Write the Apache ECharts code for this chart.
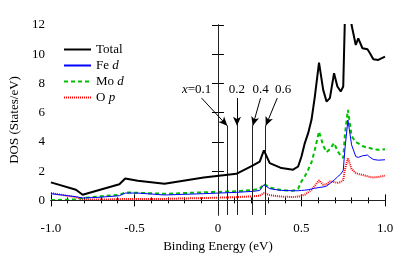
<!DOCTYPE html>
<html><head><meta charset="utf-8">
<script src="https://cdn.jsdelivr.net/npm/echarts@6/dist/echarts.min.js"></script>
<style>html,body{margin:0;padding:0;background:#fff}#c{width:409px;height:259px}</style>
</head><body><div id="c"></div>
<script>
const energy = [-1.0,-0.85,-0.81,-0.70,-0.59,-0.555,-0.48,-0.32,-0.085,0.11,0.21,0.25,0.275,0.31,0.38,0.45,0.48,0.50,0.52,0.54,0.56,0.58,0.605,0.63,0.65,0.67,0.695,0.715,0.735,0.75,0.76,0.778,0.80,0.825,0.84,0.865,0.895,0.91,0.93,0.96,1.0];
const total = [1.23,0.73,0.39,0.75,1.1,1.5,1.35,1.14,1.57,1.82,2.39,2.65,3.42,2.55,2.21,2.1,2.32,3.0,3.92,4.6,5.51,7.1,9.43,7.56,6.76,7.0,8.7,7.79,7.45,7.79,12.5,14.5,12.0,10.63,11.09,10.41,10.34,10.07,9.66,9.61,9.84];
const feD = [0.46,0.25,0.16,0.22,0.32,0.5,0.5,0.37,0.46,0.55,0.62,0.68,1.07,0.8,0.68,0.66,0.66,0.68,0.7,0.73,0.78,0.83,0.88,0.92,0.98,1.15,1.38,1.6,1.8,2.05,3.5,5.5,3.8,3.0,2.94,3.05,3.1,2.95,2.8,2.75,2.78];
const moD = [0.02,0.06,0.16,0.28,0.38,0.55,0.52,0.45,0.55,0.62,0.72,0.8,1.14,0.88,0.7,0.66,0.8,1.3,1.64,2.1,2.6,3.46,4.71,3.75,3.3,3.5,3.92,3.4,3.05,2.9,4.5,6.2,4.4,4.0,3.9,3.72,3.6,3.58,3.5,3.46,3.5];
const oP = [0.5,0.22,0.05,0.06,0.08,0.1,0.1,0.1,0.16,0.22,0.28,0.32,0.5,0.36,0.26,0.23,0.26,0.32,0.39,0.55,0.73,1.0,1.37,1.07,1.1,1.3,1.25,1.2,1.25,1.4,2.1,2.9,2.15,1.87,1.8,1.75,1.65,1.6,1.57,1.6,1.69];
const seriesNames = ['Total','Fe d','Mo d','O p'];
const xTickLabels = {'-1':'-1.0','-0.5':'-0.5','0':'0','0.5':'0.5','1':'1.0'};
const yTicks = [0,2,4,6,8,10,12];
// doping markers: line position, arrow start, label position
const dopingLabels = ['x=0.1','0.2','0.4','0.6'];
const dopingLineX = [0.056,0.114,0.208,0.286];
const arrowStartX = [-0.098,0.114,0.255,0.355];
const labelX = [-0.128,0.113,0.255,0.39];
const lineTopY = 5.1, arrowStartY = 7.0, labelY = 7.6;

const pairs = a => energy.map((e,i)=>[e,a[i]]);
const serif = 'Liberation Serif';
const chart = echarts.init(document.getElementById('c'), null, {renderer:'canvas'});
const mlData = [];
mlData.push([{coord:[0,-1]},{coord:[0,12]}]);
dopingLineX.forEach(x=>mlData.push([{coord:[x,-1]},{coord:[x,lineTopY]}]));
const arrowData = dopingLineX.map((x,i)=>[{coord:[arrowStartX[i],arrowStartY]},{coord:[x,lineTopY]}]);
const labelData = dopingLabels.map((t,i)=>({coord:[labelX[i],labelY], name:t}));

chart.setOption({
  animation:false,
  textStyle:{fontFamily:serif},
  grid:{left:44,right:24,top:25,bottom:44},
  legend:{
    data:seriesNames, orient:'vertical', left:58, top:38, itemWidth:27, itemHeight:8, itemGap:3,
    itemStyle:{opacity:0},
    textStyle:{fontFamily:serif,fontSize:13,color:'#000',rich:{i:{fontStyle:'italic',fontFamily:serif,fontSize:13}}},
    formatter: n => { const p=n.split(' '); return p.length>1 ? p[0]+' {i|'+p[1]+'}' : n; }
  },
  xAxis:[{
    type:'value',min:-1,max:1,interval:0.5,
    name:'Binding Energy (eV)',nameLocation:'middle',nameGap:24,
    nameTextStyle:{fontFamily:serif,fontSize:13,color:'#000'},
    axisLine:{lineStyle:{color:'#000',width:1}},
    axisTick:{inside:true,length:6,lineStyle:{color:'#000'}},
    minorTick:{show:true,splitNumber:5,length:3,lineStyle:{color:'#000'}},
    axisLabel:{fontFamily:serif,fontSize:13,color:'#000',margin:7,formatter:v=>xTickLabels[String(v)]??String(v)},
    splitLine:{show:false}
  },{
    type:'value',min:-1,max:1,interval:0.5,position:'top',
    axisLine:{show:true,lineStyle:{color:'#000',width:1}},
    axisTick:{inside:true,length:6,lineStyle:{color:'#000'}},
    minorTick:{show:true,splitNumber:5,length:3,lineStyle:{color:'#000'}},
    axisLabel:{show:false},splitLine:{show:false}
  }],
  yAxis:[{
    type:'value',min:-1,max:12,
    name:'DOS (States/eV)',nameLocation:'middle',nameGap:26,
    nameTextStyle:{fontFamily:serif,fontSize:13,color:'#000'},
    axisLine:{show:true,lineStyle:{color:'#000',width:1}},
    axisTick:{show:true,inside:true,length:6,lineStyle:{color:'#000'},customValues:yTicks},
    axisLabel:{fontFamily:serif,fontSize:13,color:'#000',margin:6,customValues:yTicks},
    splitLine:{show:false}
  },{
    type:'value',min:-1,max:12,position:'right',
    axisLine:{show:true,lineStyle:{color:'#000',width:1}},
    axisTick:{show:true,inside:true,length:6,lineStyle:{color:'#000'},customValues:yTicks},
    axisLabel:{show:false,customValues:yTicks},splitLine:{show:false}
  }],
  series:[
    {name:'Total',type:'line',data:pairs(total),symbol:'none',clip:true,z:5,
     lineStyle:{color:'#000',width:2},itemStyle:{color:'#000'},
     markLine:{silent:true,symbol:['none','none'],animation:false,label:{show:false},
       lineStyle:{color:'#222',width:1,type:'solid'},data:mlData.concat([[{coord:[-1,0]},{coord:[1,0]}]])}},
    {name:'Fe d',type:'line',data:pairs(feD),symbol:'none',clip:true,z:4,
     lineStyle:{color:'#0000ff',width:1},itemStyle:{color:'#0000ff'}},
    {name:'Mo d',type:'line',data:pairs(moD),symbol:'none',clip:true,z:3,
     lineStyle:{color:'#00c000',width:2,type:[4,3]},itemStyle:{color:'#00c000'}},
    {name:'O p',type:'line',data:pairs(oP),symbol:'none',clip:true,z:2,
     lineStyle:{color:'#ff0000',width:2,type:[1,1]},itemStyle:{color:'#ff0000'},
     markLine:{silent:true,symbol:['none','arrow'],symbolSize:[6,9],animation:false,label:{show:false},
       lineStyle:{color:'#000',width:1,type:'solid'},data:arrowData},
     markPoint:{silent:true,symbol:'circle',symbolSize:0,animation:false,data:labelData,
       label:{show:true,position:'inside',color:'#000',fontFamily:serif,fontSize:13,
         formatter:p=>p.name.startsWith('x=')?'{i|x}='+p.name.slice(2):p.name,
         rich:{i:{fontStyle:'italic',fontFamily:serif,fontSize:13,color:'#000'}}}}}
  ]
});
</script></body></html>
